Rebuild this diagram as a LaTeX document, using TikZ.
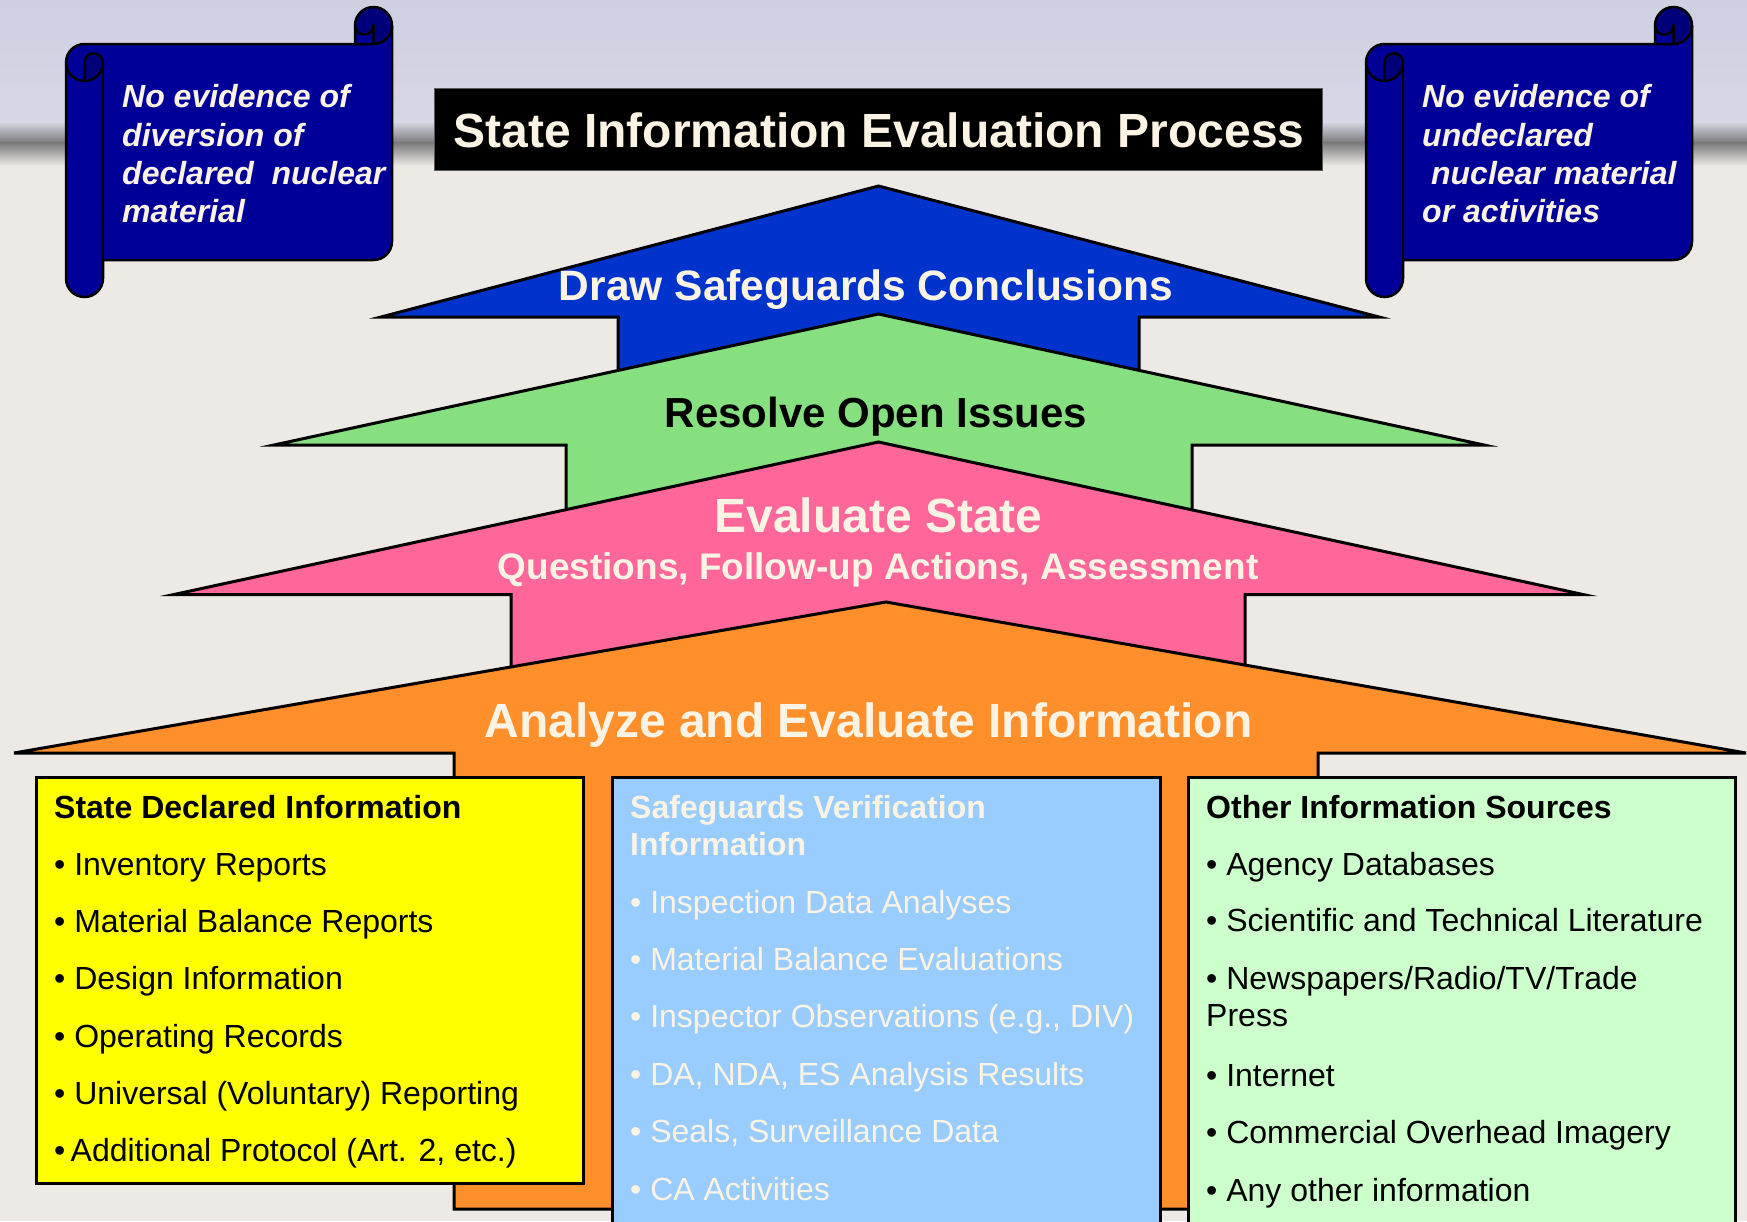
\documentclass[tikz,border=0pt]{standalone}
\usepackage{fontspec}
\setmainfont{Liberation Sans}
\definecolor{scrollblue}{RGB}{0,0,153}
\definecolor{scrolldark}{RGB}{0,0,122}
\definecolor{arrowblue}{RGB}{0,51,204}
\definecolor{arrowgreen}{RGB}{134,224,128}
\definecolor{arrowpink}{RGB}{255,102,153}
\definecolor{arroworange}{RGB}{255,143,43}
\definecolor{boxyellow}{RGB}{255,255,0}
\definecolor{boxblue}{RGB}{153,204,255}
\definecolor{boxgreen}{RGB}{204,255,204}
\definecolor{cream}{RGB}{251,243,228}
\definecolor{bglav}{RGB}{206,208,226}
\definecolor{bglavlight}{RGB}{214,216,229}
\definecolor{bgband}{RGB}{122,122,124}
\definecolor{bgbeige}{RGB}{237,234,230}
\newcommand{\myfs}[1]{\fontsize{#1}{#1}\selectfont}
\newcommand{\scrollshape}{%
  \fill[scrollblue]
    (66,62.5) arc[start angle=180,end angle=270,radius=18.5]
    -- (355,44) -- (355,25.5) arc[start angle=180,end angle=360,radius=18.5]
    -- (392,241.5) arc[start angle=0,end angle=90,radius=18.5]
    -- (103,260) -- (103,278.5) arc[start angle=0,end angle=180,radius=18.5] -- cycle;
  \fill[scrolldark] (84.5,81) arc[start angle=90,end angle=0,radius=18.5]
    arc[start angle=0,end angle=-180,radius=9.25] -- cycle;
  \fill[scrolldark] (355,25.5) arc[start angle=180,end angle=360,radius=18.5]
    arc[start angle=0,end angle=90,radius=18.5] -- (373.5,25.5)
    arc[start angle=0,end angle=180,radius=9.25] -- cycle;
  \draw[scrollline]
    (66,62.5) arc[start angle=180,end angle=270,radius=18.5]
    -- (355,44) -- (355,25.5) arc[start angle=180,end angle=360,radius=18.5]
    -- (392,241.5) arc[start angle=0,end angle=90,radius=18.5]
    -- (103,260) -- (103,278.5) arc[start angle=0,end angle=180,radius=18.5] -- cycle;
  \draw[scrollline] (66,62.5) arc[start angle=180,end angle=0,radius=18.5]
    arc[start angle=0,end angle=-180,radius=9.25] -- (84.5,81);
  \draw[scrollline] (103,62.5) -- (103,260);
  \draw[scrollline] (355,25.5) arc[start angle=180,end angle=0,radius=9.25] -- (373.5,44);
  \draw[scrollline] (355,44) -- (373.5,44) arc[start angle=90,end angle=0,radius=18.5];
}
\tikzset{
  scrollline/.style={draw=black,line width=2.5pt,line join=round},
  outline/.style={draw=black,line width=3pt},
  boxline/.style={draw=black,line width=3pt},
  ctr/.style={anchor=base,inner sep=0pt,font=\bfseries},
  lft/.style={anchor=base west,inner sep=0pt},
  scrolltxt/.style={lft,text=cream,font=\myfs{32}\bfseries\itshape},
  head/.style={lft,font=\myfs{32}\bfseries},
  item/.style={lft,font=\myfs{32}},
}
\begin{document}
\begin{tikzpicture}[x=1pt,y=-1pt]
\path[use as bounding box] (0,0) rectangle (1747,1221);
\clip (0,0) rectangle (1747,1221);
% background
\fill[bgbeige] (0,0) rectangle (1747,1221);
\shade[top color=bglav,bottom color=bglavlight] (0,0) rectangle (1747,122);
\shade[top color=bglavlight,bottom color=bgband] (0,121.5) rectangle (1747,143);
\shade[top color=bgband,bottom color=bgbeige] (0,142.5) rectangle (1747,166);

% scrolls
\begin{scope}
  \scrollshape
\end{scope}
\begin{scope}[xshift=1300pt]
  \scrollshape
\end{scope}
\node[scrolltxt] (l1) at (122,107.5) {No evidence of};
\node[scrolltxt] (l2) at (122,146) {diversion of};
\node[scrolltxt] (l3) at (122,184.3) {declared\ \ nuclear};
\node[scrolltxt] (l4) at (122,222.7) {material};
\node[scrolltxt] (r1) at (1422,107.5) {No evidence of};
\node[scrolltxt] (r2) at (1422,146) {undeclared};
\node[scrolltxt] (r3) at (1422,184.3) {\ nuclear material};
\node[scrolltxt] (r4) at (1422,222.7) {or activities};

% title
\fill[black] (434.5,88) rectangle (1322.5,170.5);
\draw[black!65,line width=1pt] (434.5,88) rectangle (1322.5,170.5);
\node[ctr,text=cream,font=\myfs{48}\bfseries] (title) at (879,147) {State Information Evaluation Process};

% arrows
\path[outline,fill=arrowblue] (878.5,186) -- (1379,317) -- (1139,317) -- (1139,420)
  -- (618,420) -- (618,317) -- (381,317) -- cycle;
\node[ctr,text=cream,font=\myfs{42.5}\bfseries] (draw) at (866,300) {Draw Safeguards Conclusions};

\path[outline,fill=arrowgreen] (878.5,314) -- (1484,445) -- (1192,445) -- (1192,560)
  -- (566,560) -- (566,445) -- (274,445) -- cycle;
\node[ctr,text=black,font=\myfs{42}\bfseries] (resolve) at (876,427) {Resolve Open Issues};

\path[outline,fill=arrowpink] (878.5,442) -- (1583,594.5) -- (1245,594.5) -- (1245,720)
  -- (511,720) -- (511,594.5) -- (174,594.5) -- cycle;
\node[ctr,text=cream,font=\myfs{48}\bfseries] (evalstate) at (878.5,532) {Evaluate State};
\node[ctr,text=cream,font=\myfs{37}\bfseries] (questions) at (878,579) {Questions, Follow-up Actions, Assessment};

\path[outline,fill=arroworange] (886,602) -- (1746,753) -- (1318,753) -- (1318,1209)
  -- (454,1209) -- (454,753) -- (14,753) -- cycle;
\node[ctr,text=cream,font=\myfs{48}\bfseries] (analyze) at (868.5,737) {Analyze and Evaluate Information};

% boxes
\path[boxline,fill=boxyellow] (36,777) rectangle (583,1183);
\path[boxline,fill=boxblue] (612.5,777) rectangle (1160,1250);
\path[boxline,fill=boxgreen] (1188.5,777) rectangle (1735.5,1250);

% yellow box text
\node[head] (y0) at (54,818) {State Declared Information};
\node[item] (y1) at (54,875) {• Inventory Reports};
\node[item] (y2) at (54,932.4) {• Material Balance Reports};
\node[item] (y3) at (54,989.7) {• Design Information};
\node[item] (y4) at (54,1047) {• Operating Records};
\node[item] (y5) at (54,1104.4) {• Universal (Voluntary) Reporting};
\node[item] (y6) at (54,1161.7) {•\,Additional Protocol (Art. 2, etc.)};

% blue box text
\node[head,text=cream] (b0) at (630,818) {Safeguards Verification};
\node[head,text=cream] (b0b) at (630,855.5) {Information};
\node[item,text=cream] (b1) at (630,913) {• Inspection Data Analyses};
\node[item,text=cream] (b2) at (630,970.4) {• Material Balance Evaluations};
\node[item,text=cream] (b3) at (630,1027.8) {• Inspector Observations (e.g., DIV)};
\node[item,text=cream] (b4) at (630,1085.2) {• DA, NDA, ES Analysis Results};
\node[item,text=cream] (b5) at (630,1142.6) {• Seals, Surveillance Data};
\node[item,text=cream] (b6) at (630,1200) {• CA Activities};

% green box text
\node[head] (g0) at (1206,818) {Other Information\ Sources};
\node[item] (g1) at (1206,875) {• Agency Databases};
\node[item] (g2) at (1206,931.7) {• Scientific and Technical Literature};
\node[item] (g3) at (1206,989) {• Newspapers/Radio/TV/Trade};
\node[item] (g3b) at (1206,1026.7) {Press};
\node[item] (g4) at (1206,1086.5) {• Internet};
\node[item] (g5) at (1206,1143.7) {• Commercial Overhead Imagery};
\node[item] (g6) at (1206,1201.5) {• Any other information};
\end{tikzpicture}
\end{document}
